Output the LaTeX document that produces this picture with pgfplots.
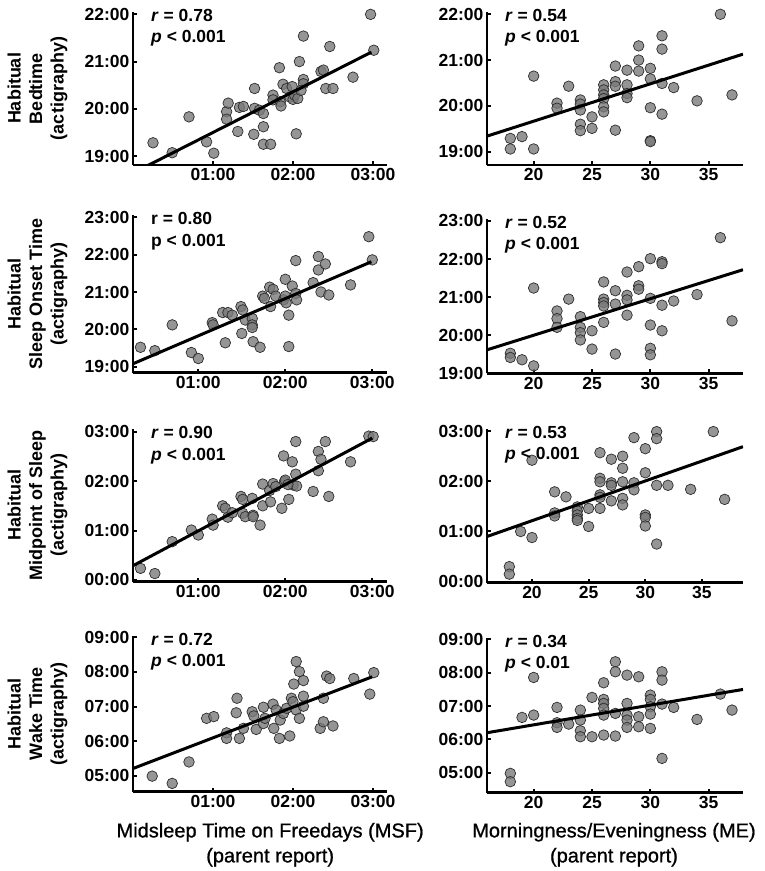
\documentclass[border=0pt]{standalone}
\usepackage{fontspec}
\setmainfont{Liberation Sans}
\newfontfamily\labfont[FakeBold=0.9]{Liberation Sans}
\usepackage{pgfplots}
\pgfplotsset{compat=1.18}
\definecolor{mk}{RGB}{122,122,122}
\definecolor{mkedge}{RGB}{45,45,45}
\pgfplotsset{
  panel/.style={
    scale only axis,
    axis x line*=bottom, axis y line*=left,
    axis line style={-, line width=2.6pt, black},
    tick align=inside,
    major tick length=4pt,
    tick style={line width=2pt, black},
    tick label style={font=\bfseries\fontsize{17.5}{20}\selectfont, black},
    clip mode=individual,
    ylabel style={at={(axis description cs:-0.376,0.5)}, anchor=center, align=center, font=\bfseries\fontsize{18}{21.5}\selectfont},
  },
  leftcol/.style={width=254pt, xtick={1,2,3}, xticklabels={01:00,02:00,03:00}},
  rightcol/.style={width=256pt, xtick={20,25,30,35}, xticklabels={20,25,30,35}},
  sc/.style={only marks, mark=*, mark size=5.3pt, mark options={fill=mk, fill opacity=0.8, draw=mkedge, line width=0.7pt}},
  fit/.style={no marks, line width=3pt, black},
}
\newcommand{\stats}[2]{\node[anchor=north west, align=left, inner sep=0pt, font=\bfseries\fontsize{17.5}{21.5}\selectfont] at (rel axis cs:0,1) [xshift=18pt, yshift=3pt] {#1\\#2};}
\begin{document}
\begin{tikzpicture}
\useasboundingbox (0,0) rectangle (764pt,871pt);
% ---------------- Row 1 left
\begin{axis}[panel, leftcol, at={(133pt,706pt)}, anchor=south west, height=153pt,
  xmin=0, xmax=3.175, ymin=18.81, ymax=22.05,
  ytick={19,20,21,22}, yticklabels={19:00,20:00,21:00,22:00},
  ylabel={Habitual\\Bedtime\\(actigraphy)}]
\addplot[sc] coordinates {
(0.25,19.28) (0.49,19.07) (0.70,19.83) (0.92,19.30) (1.01,19.06) (1.17,19.94) (1.17,19.78)
(1.19,20.12) (1.31,19.52) (1.33,20.03) (1.38,20.05) (1.51,19.46) (1.52,20.43) (1.52,20.01)
(1.58,19.97) (1.63,19.90) (1.63,19.62) (1.63,19.25) (1.72,19.25) (1.75,20.29) (1.75,20.19)
(1.83,20.87) (1.84,20.15) (1.85,20.06) (1.875,20.52) (1.92,20.43) (1.96,20.25) (1.99,20.47)
(2.00,20.20) (2.04,19.47) (2.02,20.29) (2.06,20.22) (2.08,21.00) (2.13,21.54) (2.13,20.62)
(2.13,20.53) (2.10,20.39) (2.35,20.79) (2.38,20.82) (2.46,21.32) (2.41,20.43) (2.50,20.43)
(2.75,20.67) (2.97,22.00) (3.01,21.24)};
\addplot[fit] coordinates {(0,18.64) (2.98,21.20)};
\stats{\textit{r} = 0.78}{\textit{p} < 0.001}
\end{axis}
% ---------------- Row 1 right
\begin{axis}[panel, rightcol, at={(487pt,706pt)}, anchor=south west, height=153pt,
  xmin=16, xmax=37.94, ymin=18.71, ymax=22.05,
  ytick={19,20,21,22}, yticklabels={19:00,20:00,21:00,22:00}]
\addplot[sc] coordinates {
(18,19.29) (18,19.06) (19,19.33) (20,19.06) (20,20.65) (22,20.06) (22,19.95) (23,20.43)
(24,20.13) (24,20.04) (24,19.91) (24,19.60) (24,19.46) (25,19.76) (25,19.51)
(26,20.46) (26,20.35) (26,20.24) (26,20.16) (26,19.98) (26,19.87)
(27,20.87) (27,20.53) (27,20.43) (27,19.47) (28,20.78) (28,20.46) (28,20.27) (28,20.18)
(29,21.31) (29,21.00) (29,20.76) (30,20.82) (30,20.59) (30,19.96) (30,19.24) (30,19.22)
(31,21.53) (31,21.24) (31,20.49) (31,19.82) (32,20.40) (34,20.11) (36,22.00) (37,20.24)};
\addplot[fit] coordinates {(16,19.34) (37.94,21.13)};
\stats{\textit{r} = 0.54}{\textit{p} < 0.001}
\end{axis}
% ---------------- Row 2 left
\begin{axis}[panel, leftcol, at={(133pt,498.3pt)}, anchor=south west, height=157.3pt,
  xmin=0.249, xmax=3.169, ymin=18.84, ymax=23.05,
  ytick={19,20,21,22,23}, yticklabels={19:00,20:00,21:00,22:00,23:00},
  ylabel={Habitual\\Sleep Onset Time\\(actigraphy)}]
\addplot[sc] coordinates {
(0.335,19.52) (0.50,19.43) (0.70,20.12) (0.92,19.38) (1.00,19.22) (1.16,20.18) (1.17,20.12)
(1.31,19.64) (1.28,20.45) (1.34,20.45) (1.39,20.38) (1.49,20.61) (1.51,20.52) (1.50,19.89)
(1.54,20.25) (1.62,20.29) (1.62,20.12) (1.62,20.05) (1.63,19.67) (1.71,19.52) (1.74,20.89)
(1.76,20.83) (1.82,21.13) (1.83,20.61) (1.86,21.07) (1.89,20.89) (1.98,20.79) (2.00,21.34)
(2.00,20.89) (2.01,20.71) (2.04,20.38) (2.04,19.54) (2.08,21.16) (2.12,21.84) (2.12,20.96)
(2.13,20.79) (2.32,21.25) (2.38,21.59) (2.38,21.95) (2.46,21.75) (2.41,21.00) (2.50,20.92)
(2.75,21.19) (2.96,22.48) (3.00,21.86)};
\addplot[fit] coordinates {(0.24,19.07) (2.99,21.81)};
\stats{r = 0.80}{p < 0.001}
\end{axis}
% ---------------- Row 2 right
\begin{axis}[panel, rightcol, at={(487pt,497.5pt)}, anchor=south west, height=154.5pt,
  xmin=16, xmax=37.94, ymin=19.0, ymax=23.05,
  ytick={19,20,21,22,23}, yticklabels={19:00,20:00,21:00,22:00,23:00}]
\addplot[sc] coordinates {
(18,19.53) (18,19.42) (19,19.36) (20,21.24) (20,19.20) (22,20.64) (22,20.44) (22,20.21)
(23,20.95) (24,20.49) (24,20.21) (24,20.07) (24,19.88) (25,20.12) (25,19.64)
(26,21.40) (26,20.95) (26,20.86) (26,20.77) (26,20.34) (27,21.17) (27,20.82) (27,19.51)
(28,21.66) (28,21.05) (28,20.93) (28,20.53) (29,21.80) (29,21.30) (29,21.21)
(30,22.01) (30,20.97) (30,20.27) (30,19.66) (30,19.49) (31,21.93) (31,21.88) (31,20.79) (31,20.12)
(32,20.90) (34,21.07) (36,22.56) (37,20.38)};
\addplot[fit] coordinates {(16,19.62) (37.94,21.72)};
\stats{\textit{r} = 0.52}{\textit{p} < 0.001}
\end{axis}
% ---------------- Row 3 left
\begin{axis}[panel, leftcol, at={(133pt,289.3pt)}, anchor=south west, height=152.5pt,
  xmin=0.249, xmax=3.169, ymin=-0.035, ymax=3.05,
  ytick={0,1,2,3}, yticklabels={00:00,01:00,02:00,03:00},
  ylabel={Habitual\\Midpoint of Sleep\\(actigraphy)}]
\addplot[sc] coordinates {
(0.335,0.235) (0.50,0.13) (0.70,0.775) (0.92,1.01) (1.00,0.91) (1.16,1.23) (1.17,1.11)
(1.28,1.50) (1.31,1.45) (1.34,1.27) (1.39,1.36) (1.49,1.69) (1.51,1.63) (1.51,1.35)
(1.54,1.28) (1.62,1.65) (1.63,1.31) (1.63,1.28) (1.71,1.11) (1.74,1.50) (1.74,1.94)
(1.82,1.81) (1.83,1.58) (1.86,1.95) (1.89,1.89) (1.96,1.45) (1.98,2.51) (1.99,1.99)
(2.00,2.02) (2.04,1.63) (2.08,2.39) (2.12,2.80) (2.12,2.14) (2.09,1.92) (2.13,1.90)
(2.03,1.93) (2.32,1.79) (2.38,2.60) (2.38,2.21) (2.41,2.44) (2.46,2.80) (2.50,1.69)
(2.75,2.39) (2.96,2.91) (3.01,2.90)};
\addplot[fit] coordinates {(0.24,0.28) (3.00,2.87)};
\stats{\textit{r} = 0.90}{\textit{p} < 0.001}
\end{axis}
% ---------------- Row 3 right
\begin{axis}[panel, rightcol, at={(487pt,288.3pt)}, anchor=south west, height=154.1pt,
  xmin=16.03, xmax=38.62, ymin=-0.02, ymax=3.05,
  ytick={0,1,2,3}, yticklabels={00:00,01:00,02:00,03:00}]
\addplot[sc] coordinates {
(18,0.30) (18,0.15) (19,1.00) (20,2.42) (20,0.88) (22,1.79) (22,1.37) (22,1.31) (23,1.69)
(24,1.49) (24,1.41) (24,1.33) (24,1.26) (24,1.22) (25,1.46) (25,1.10)
(26,2.57) (26,2.06) (26,1.99) (26,1.73) (26,1.68) (26,1.46)
(27,2.44) (27,1.97) (27,1.92) (27,1.61) (28,2.50) (28,2.26) (28,1.99) (28,1.66) (28,1.53)
(29,2.87) (29,1.97) (29,1.83) (30,2.65) (30,2.17) (30,1.33) (30,1.28) (30,1.11)
(31,2.99) (31,2.85) (31,1.92) (31,0.75) (32,1.92) (34,1.84) (36,2.99) (37,1.64)};
\addplot[fit] coordinates {(16.03,0.90) (38.62,2.69)};
\stats{\textit{r} = 0.53}{\textit{p} < 0.001}
\end{axis}
% ---------------- Row 4 left
\begin{axis}[panel, leftcol, at={(133pt,79.3pt)}, anchor=south west, height=156.1pt,
  xmin=0, xmax=3.175, ymin=4.54, ymax=9.05,
  ytick={5,6,7,8,9}, yticklabels={05:00,06:00,07:00,08:00,09:00},
  ylabel={Habitual\\Wake Time\\(actigraphy)},
  xlabel={Midsleep Time on Freedays (MSF)\\(parent report)},
  xlabel style={at={(axis description cs:0.54,0)}, anchor=north, yshift=-31pt, inner sep=0pt, align=center, font=\labfont\fontsize{20}{25}\selectfont}]
\addplot[sc] coordinates {
(0.24,4.99) (0.49,4.78) (0.70,5.40) (0.92,6.66) (1.01,6.71) (1.17,6.24) (1.17,6.08)
(1.30,7.24) (1.29,6.82) (1.33,6.08) (1.38,6.37) (1.49,6.85) (1.51,6.73) (1.54,6.34)
(1.63,6.98) (1.63,6.51) (1.65,6.66) (1.75,7.07) (1.76,6.37) (1.79,6.90) (1.83,6.08)
(1.84,6.61) (1.88,6.80) (1.92,6.95) (1.96,6.15) (1.98,7.24) (2.00,7.14) (2.01,7.65)
(2.04,6.90) (2.04,8.30) (2.08,8.01) (2.08,6.66) (2.13,7.75) (2.13,7.30) (2.13,7.01)
(2.34,6.37) (2.38,7.24) (2.38,6.56) (2.42,7.88) (2.46,7.81) (2.50,6.44) (2.76,7.81)
(2.96,7.36) (3.01,7.98)};
\addplot[fit] coordinates {(0,5.21) (2.99,7.86)};
\stats{\textit{r} = 0.72}{\textit{p} < 0.001}
\end{axis}
% ---------------- Row 4 right
\begin{axis}[panel, rightcol, at={(487pt,78.3pt)}, anchor=south west, height=154.9pt,
  xmin=16, xmax=37.94, ymin=4.4, ymax=9.05,
  ytick={5,6,7,8,9}, yticklabels={05:00,06:00,07:00,08:00,09:00},
  xlabel={Morningness/Eveningness (ME)\\(parent report)},
  xlabel style={at={(axis description cs:0.496,0)}, anchor=north, yshift=-30pt, inner sep=0pt, align=center, font=\labfont\fontsize{20}{25}\selectfont}]
\addplot[sc] coordinates {
(18,4.98) (18,4.73) (19,6.66) (20,7.86) (20,6.73) (22,6.96) (22,6.50) (22,6.36) (23,6.46)
(24,6.88) (24,6.58) (24,6.26) (24,6.08) (25,7.26) (25,6.08)
(26,7.70) (26,7.20) (26,7.08) (26,6.93) (26,6.73) (26,6.13)
(27,8.33) (27,8.03) (27,6.78) (27,6.10) (28,7.93) (28,7.08) (28,6.73) (28,6.58) (28,6.36)
(29,7.88) (29,6.68) (29,6.38) (30,7.33) (30,7.20) (30,6.98) (30,6.76) (30,6.33)
(31,8.03) (31,7.78) (31,7.06) (31,5.43) (32,6.96) (34,6.60) (36,7.36) (37,6.88)};
\addplot[fit] coordinates {(16,6.20) (37.94,7.50)};
\stats{\textit{r} = 0.34}{\textit{p} < 0.01}
\end{axis}
\end{tikzpicture}
\end{document}
